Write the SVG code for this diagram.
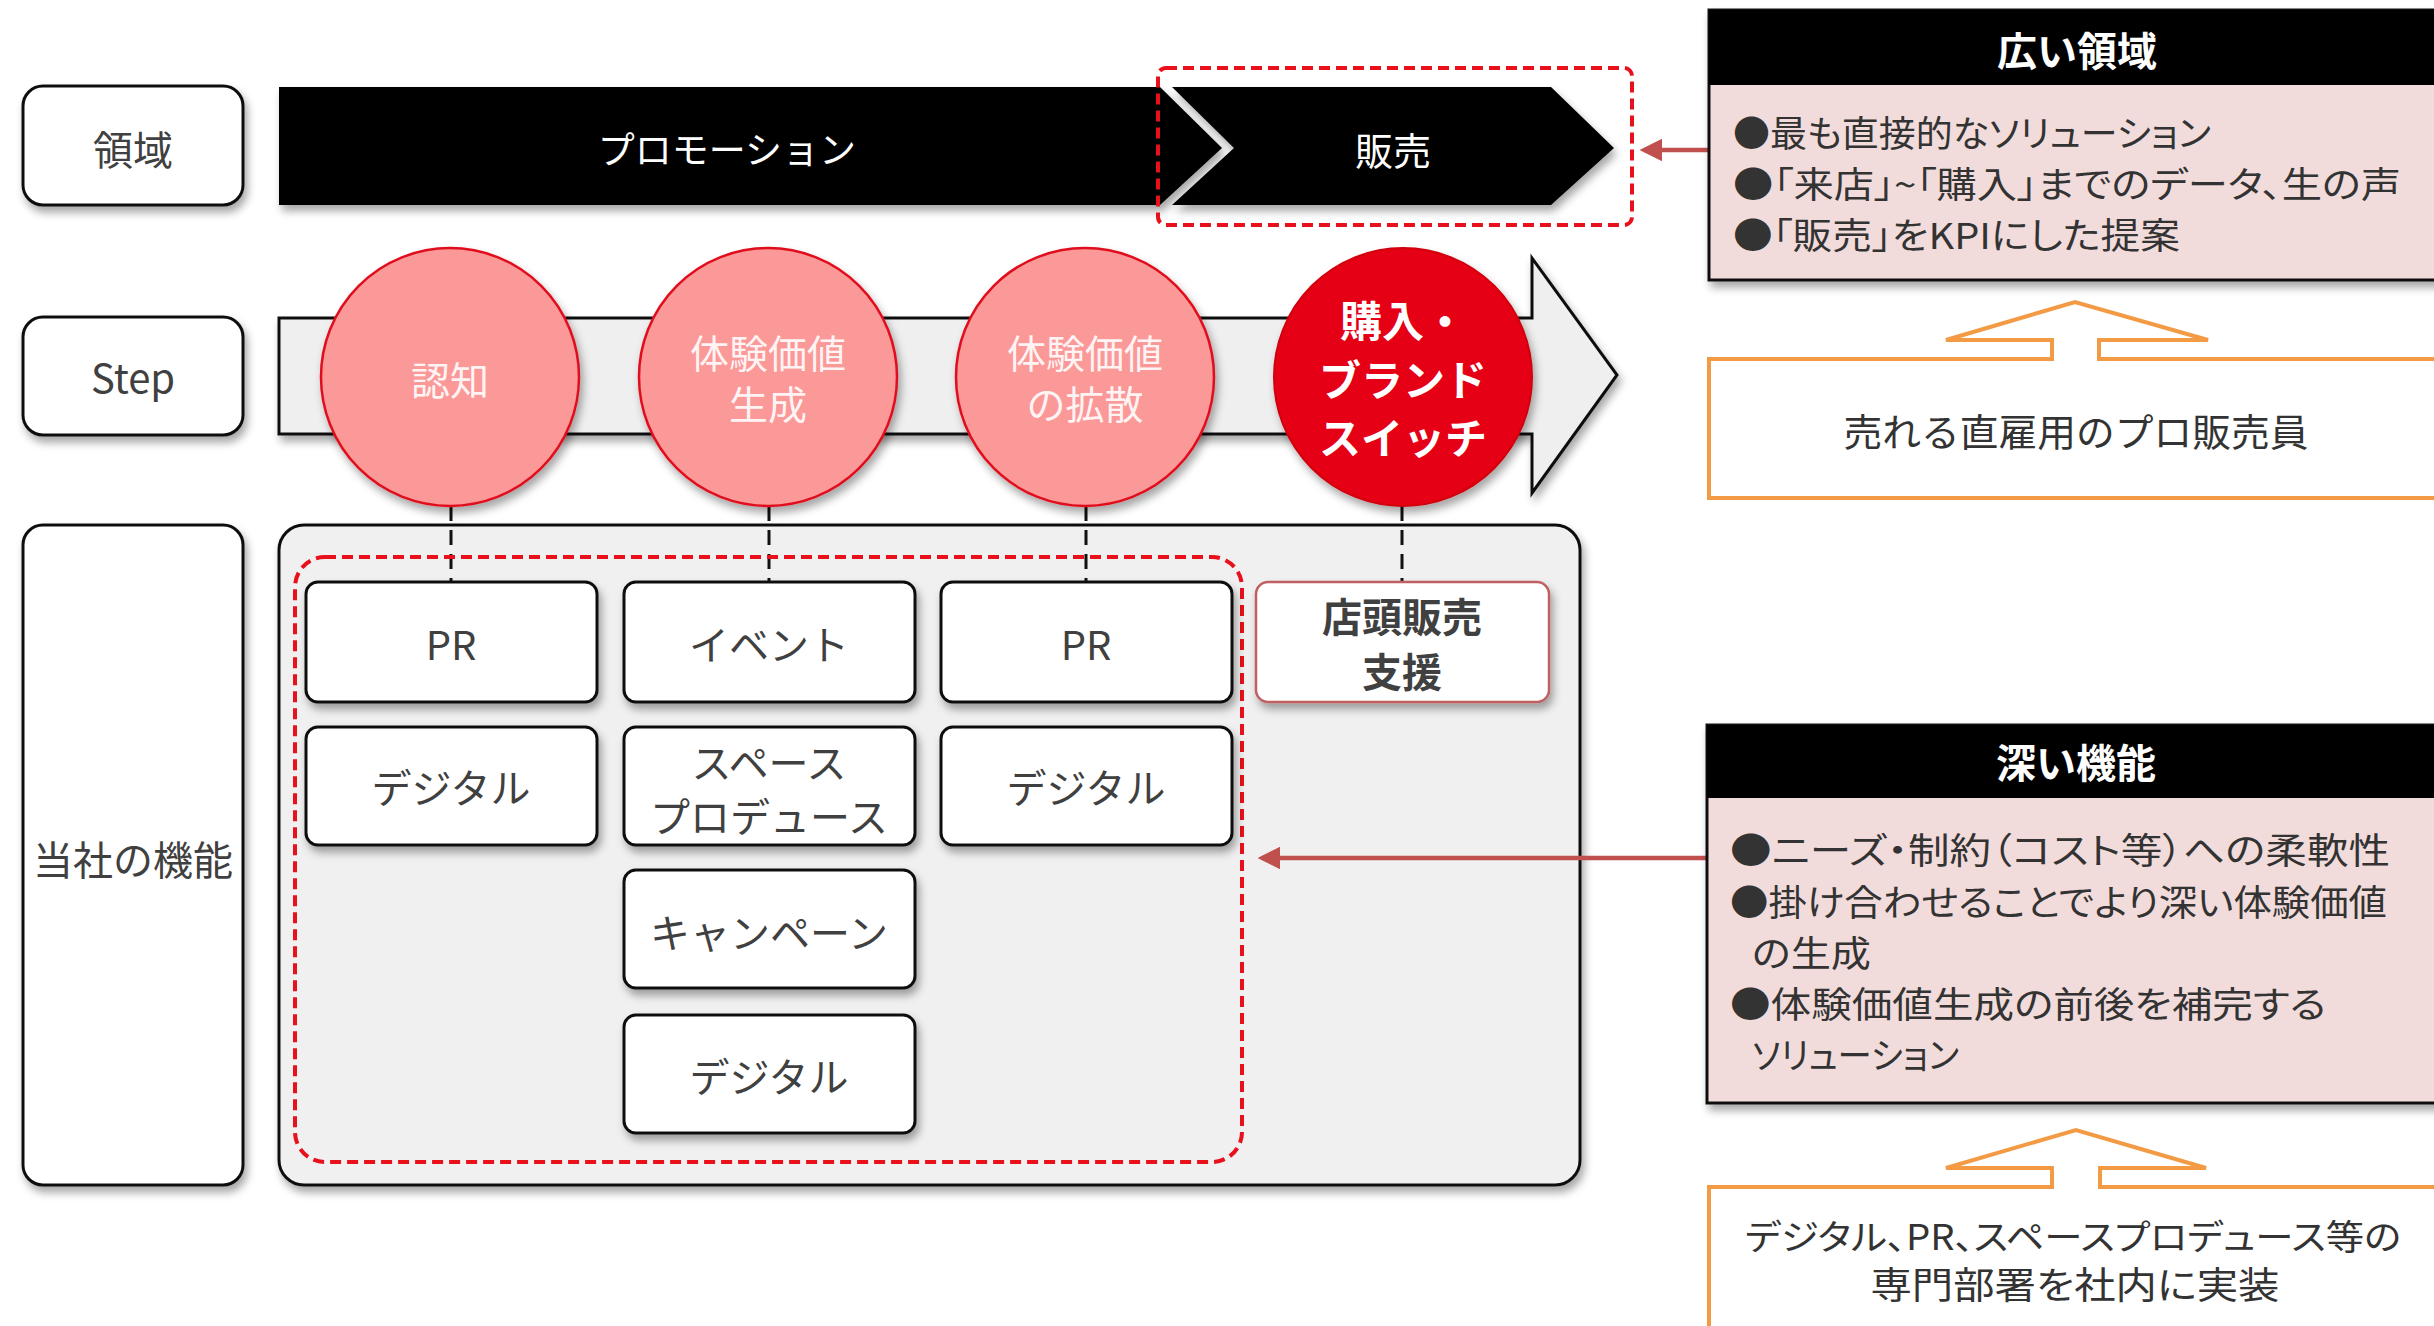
<svg xmlns="http://www.w3.org/2000/svg" width="2434" height="1326" viewBox="0 0 2434 1326">
<style>
text{font-family:"Noto Sans CJK JP","Noto Sans",sans-serif;text-anchor:middle;dominant-baseline:central}
.lbl{fill:#fff;stroke:#111;stroke-width:3}
.t{fill:#404040;font-size:40px}
.fbox{fill:#fff;stroke:#111;stroke-width:3}
.circ{fill:#fb9898;stroke:#e0101e;stroke-width:2.5}
.ct{fill:#fff4f4;font-size:39px}
.ct2{fill:#fff;font-size:42px;font-weight:bold}
.bul{fill:#333;font-size:36px;text-anchor:start;font-feature-settings:"palt"}
.hdr{fill:#fff;font-size:40px;font-weight:bold}
.org{fill:#fff;stroke:#f39a45;stroke-width:4}
.ot{fill:#333;font-feature-settings:"palt"}
.dl{stroke:#111;stroke-width:3;stroke-dasharray:15 9;fill:none}
.rd{fill:none;stroke:#e8101a;stroke-width:4;stroke-dasharray:11 6}
.ra{stroke:#c0504d;stroke-width:4.5;fill:none;marker-end:url(#ah)}
</style>
<defs>
<filter id="sh" x="-10%" y="-10%" width="130%" height="140%">
<feDropShadow dx="3" dy="6" stdDeviation="4" flood-color="#000" flood-opacity="0.35"/>
</filter>
<marker id="ah" viewBox="0 0 10 10" refX="8" refY="5" markerWidth="5" markerHeight="5" orient="auto" markerUnits="strokeWidth">
<path d="M0,0 L10,5 L0,10 z" fill="#c0504d"/>
</marker>
</defs>
<rect width="2434" height="1326" fill="#fff"/>

<g id="label-ryoiki">
<rect class="lbl" x="23" y="86" width="220" height="119" rx="20" filter="url(#sh)"/>
<text class="t" x="133" y="148">領域</text>
</g>
<g id="label-step">
<rect class="lbl" x="23" y="317" width="220" height="118" rx="20" filter="url(#sh)"/>
<text class="t" x="133" y="376">Step</text>
</g>
<g id="label-kinou">
<rect class="lbl" x="23" y="525" width="220" height="660" rx="20" filter="url(#sh)"/>
<text class="t" x="133" y="858">当社の機能</text>
</g>

<g id="bar-promotion">
<polygon points="279,87 1160,87 1222,148 1160,205 279,205" fill="#000" filter="url(#sh)"/>
<text x="727" y="148" fill="#fff" font-size="37">プロモーション</text>
</g>
<g id="bar-hanbai">
<polygon points="1172,87 1551,87 1614,148 1551,205 1172,205 1234,148" fill="#000" filter="url(#sh)"/>
<text x="1393" y="148" fill="#fff" font-size="38">販売</text>
</g>
<g id="hanbai-highlight">
<rect class="rd" x="1158" y="68" width="474" height="157" rx="8"/>
</g>

<g id="step-arrow">
<polygon points="279,318 1532,318 1532,258 1617,375 1532,493 1532,434 279,434" fill="#efefef" stroke="#111" stroke-width="3" filter="url(#sh)"/>
</g>

<g id="container">
<rect x="279" y="525" width="1301" height="660" rx="25" fill="#f0f0f0" stroke="#111" stroke-width="3" filter="url(#sh)"/>
</g>

<g id="connectors">
<line class="dl" x1="451" y1="506" x2="451" y2="582"/>
<line class="dl" x1="769" y1="506" x2="769" y2="582"/>
<line class="dl" x1="1086" y1="506" x2="1086" y2="582"/>
<line class="dl" x1="1402" y1="506" x2="1402" y2="582"/>
<line class="ra" x1="1708" y1="150" x2="1644" y2="150"/>
<line class="ra" x1="1706" y1="858" x2="1262" y2="858"/>
</g>

<g id="step-ninchi">
<circle class="circ" cx="450" cy="377" r="129" filter="url(#sh)"/>
<text class="ct" x="450" y="378" font-size="41">認知</text>
</g>
<g id="step-seisei">
<circle class="circ" cx="768" cy="377" r="129" filter="url(#sh)"/>
<text class="ct" x="768" y="351">体験価値</text>
<text class="ct" x="768" y="402">生成</text>
</g>
<g id="step-kakusan">
<circle class="circ" cx="1085" cy="377" r="129" filter="url(#sh)"/>
<text class="ct" x="1085" y="351">体験価値</text>
<text class="ct" x="1085" y="402">の拡散</text>
</g>
<g id="step-kounyu">
<circle cx="1403" cy="377" r="129" fill="#e50012" stroke="#d0000f" stroke-width="2" filter="url(#sh)"/>
<text class="ct2" x="1403" y="318">購入・</text>
<text class="ct2" x="1403" y="377">ブランド</text>
<text class="ct2" x="1403" y="435">スイッチ</text>
</g>

<g id="func-highlight">
<rect class="rd" x="295" y="557" width="947" height="605" rx="30"/>
</g>

<g id="f-pr1"><rect class="fbox" x="306" y="582" width="291" height="120" rx="12" filter="url(#sh)"/><text class="t" x="451" y="643">PR</text></g>
<g id="f-digital1"><rect class="fbox" x="306" y="727" width="291" height="118" rx="12" filter="url(#sh)"/><text class="t" x="451" y="786">デジタル</text></g>
<g id="f-event"><rect class="fbox" x="624" y="582" width="291" height="120" rx="12" filter="url(#sh)"/><text class="t" x="769" y="643">イベント</text></g>
<g id="f-space"><rect class="fbox" x="624" y="727" width="291" height="118" rx="12" filter="url(#sh)"/><text class="t" x="769" y="761" font-size="35">スペース</text><text class="t" x="769" y="815" font-size="35">プロデュース</text></g>
<g id="f-campaign"><rect class="fbox" x="624" y="870" width="291" height="118" rx="12" filter="url(#sh)"/><text class="t" x="769" y="931">キャンペーン</text></g>
<g id="f-digital2"><rect class="fbox" x="624" y="1015" width="291" height="118" rx="12" filter="url(#sh)"/><text class="t" x="769" y="1075">デジタル</text></g>
<g id="f-pr2"><rect class="fbox" x="941" y="582" width="291" height="120" rx="12" filter="url(#sh)"/><text class="t" x="1086" y="643">PR</text></g>
<g id="f-digital3"><rect class="fbox" x="941" y="727" width="291" height="118" rx="12" filter="url(#sh)"/><text class="t" x="1086" y="786">デジタル</text></g>
<g id="f-tentou"><rect x="1256" y="582" width="293" height="120" rx="12" fill="#fff" stroke="#c06060" stroke-width="2.5" filter="url(#sh)"/><text class="t" x="1402" y="615" font-size="38" font-weight="bold">店頭販売</text><text class="t" x="1402" y="670" font-size="38" font-weight="bold">支援</text></g>

<g id="panel-hiroi">
<rect x="1709" y="10" width="740" height="270" fill="#f2dcdb" stroke="#111" stroke-width="3" filter="url(#sh)"/>
<rect x="1709" y="10" width="740" height="75" fill="#000"/>
<text class="hdr" x="2077" y="49">広い領域</text>
<text class="bul" x="1733" y="131" textLength="478" lengthAdjust="spacingAndGlyphs">●最も直接的なソリューション</text>
<text class="bul" x="1733" y="182" textLength="668" lengthAdjust="spacingAndGlyphs">●「来店」~「購入」までのデータ、生の声</text>
<text class="bul" x="1733" y="233" textLength="447" lengthAdjust="spacingAndGlyphs">●「販売」をKPIにした提案</text>
</g>

<g id="box-hanbaiin">
<path class="org" d="M1709,359 H2052 V340 H1946 L2075,302 L2208,340 H2099 V359 H2450 V498 H1709 Z"/>
<text x="2076" y="429" fill="#333" font-size="38" textLength="465" lengthAdjust="spacingAndGlyphs">売れる直雇用のプロ販売員</text>
</g>

<g id="panel-fukai">
<rect x="1707" y="725" width="740" height="378" fill="#f2dcdb" stroke="#111" stroke-width="3" filter="url(#sh)"/>
<rect x="1707" y="725" width="740" height="73" fill="#000"/>
<text class="hdr" x="2076" y="761">深い機能</text>
<text class="bul" x="1730" y="848" textLength="660" lengthAdjust="spacingAndGlyphs">●ニーズ・制約（コスト等）への柔軟性</text>
<text class="bul" x="1730" y="900" textLength="657" lengthAdjust="spacingAndGlyphs">●掛け合わせることでより深い体験価値</text>
<text class="bul" x="1752" y="951" textLength="119" lengthAdjust="spacingAndGlyphs">の生成</text>
<text class="bul" x="1730" y="1002" textLength="596" lengthAdjust="spacingAndGlyphs">●体験価値生成の前後を補完する</text>
<text class="bul" x="1752" y="1053" textLength="207" lengthAdjust="spacingAndGlyphs">ソリューション</text>
</g>

<g id="box-senmon">
<path class="org" d="M1709,1187 H2052 V1168 H1946 L2076,1130 L2206,1168 H2100 V1187 H2450 V1340 H1709 Z"/>
<text class="ot" x="2073" y="1234" font-size="35" textLength="656" lengthAdjust="spacingAndGlyphs">デジタル、PR、スペースプロデュース等の</text>
<text class="ot" x="2075" y="1283" font-size="37" textLength="409" lengthAdjust="spacingAndGlyphs">専門部署を社内に実装</text>
</g>
</svg>
